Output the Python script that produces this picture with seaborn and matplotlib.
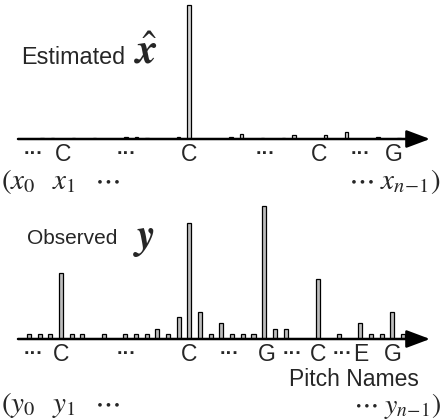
import numpy as np
import pandas as pd
import matplotlib
matplotlib.use("Agg")
import matplotlib.pyplot as plt
import seaborn as sns

# ---------------- data ----------------
pitch_index = list(range(36))

# Estimated x-hat (normalised, tallest = 1)
estimated_vals = [0, 0.008, 0.006, 0, 0.008, 0, 0.006, 0, 0, 0.015, 0.015, 0.008,
                  0, 0, 0.015, 1.0, 0, 0, 0, 0.015, 0.037, 0, 0.006, 0,
                  0.011, 0.03, 0, 0, 0.03, 0, 0.052, 0, 0, 0.015, 0, 0.011]

# Observed y (normalised, tallest = 1)
observed_vals = [0.035, 0.035, 0.035, 0.50, 0.035, 0.035, 0, 0.035, 0, 0.035, 0.035, 0.035,
                 0.075, 0.035, 0.166, 0.875, 0.20, 0.035, 0.12, 0.035, 0.035, 0.035, 1.0, 0.075,
                 0.075, 0, 0, 0.45, 0, 0.035, 0, 0.118, 0.035, 0.035, 0.20, 0.035]

top_tick_pos = [0.2, 3.0, 9.1, 15.0, 22.3, 27.4, 31.3, 34.5]
top_tick_lab = ["···", "C", "···", "C", "···", "C", "···", "G"]

bot_tick_pos = [0.4, 3.0, 9.1, 15.0, 18.8, 22.2, 24.7, 27.0, 29.3, 31.05, 34.0]
bot_tick_lab = ["···", "C", "···", "C", "···", "G", "···", "C", "···", "E", "G"]

# ---------------- style ----------------
sns.set_theme(style="white")
plt.rcParams["font.family"] = ["Liberation Sans", "DejaVu Sans"]
plt.rcParams["mathtext.fontset"] = "stix"

W, H = 441, 420
fig = plt.figure(figsize=(W / 100, H / 100), dpi=100)


def px(x, y):
    return x / W, 1 - y / H


def make_panel(rect, vals, xlim, ylim, face, tick_pos, tick_lab):
    ax = fig.add_axes(rect)
    df = pd.DataFrame({"pitch": pitch_index, "value": vals})
    sns.barplot(data=df, x="pitch", y="value", order=pitch_index, ax=ax,
                width=0.38, color=face, edgecolor="black", linewidth=0.9,
                saturation=1)
    for p in ax.patches:
        p.set_facecolor(face)
    ax.set_xlim(*xlim)
    ax.set_ylim(*ylim)
    for s in ax.spines.values():
        s.set_visible(False)
    ax.set_xlabel("")
    ax.set_ylabel("")
    ax.set_yticks([])
    ax.set_xticks(tick_pos, tick_lab)
    ax.tick_params(axis="x", length=0, pad=11, labelsize=16.5)
    for lab in ax.get_xticklabels():
        lab.set_verticalalignment("center")
        if lab.get_text() == "···":
            lab.set_fontsize(14)
            lab.set_fontweight("bold")
    ax.patch.set_alpha(0)
    ax.annotate("", xy=(430 / W, 0), xytext=(18 / W, 0),
                xycoords=ax.get_yaxis_transform(),
                textcoords=ax.get_yaxis_transform(),
                arrowprops=dict(arrowstyle="-|>,head_length=0.8,head_width=0.3",
                                mutation_scale=18, lw=1.8, color="black",
                                shrinkA=0, shrinkB=0),
                annotation_clip=False)
    return ax


# top panel: axis line at y=139 px, tallest bar top at y=5 px
ax1 = make_panel([0, 1 - 139 / H, 1, 139 / H], estimated_vals,
                 (-31.5 / 10.5, (W - 31.5) / 10.5), (0, 139 / 134),
                 "#d4d4d4", top_tick_pos, top_tick_lab)
# bottom panel: axis line at y=339 px, tallest bar top at y=206 px
ax2 = make_panel([0, 1 - 339 / H, 1, 139 / H], observed_vals,
                 (-29 / 10.69, (W - 29) / 10.69), (0, 139 / 133),
                 "#bdbdbd", bot_tick_pos, bot_tick_lab)

# ---------------- annotations ----------------
fig.text(*px(21, 57), "Estimated", fontsize=16.8, va="center", ha="left")
fig.text(*px(134, 53), r"$\hat{\mathbfit{x}}$", fontsize=31, va="center", ha="left")

fig.text(*px(27, 238), "Observed", fontsize=15, va="center", ha="left")
fig.text(*px(133, 239), r"$\mathbfit{y}$", fontsize=30, va="center", ha="left")

fig.text(*px(289, 380), "Pitch Names", fontsize=16.5, va="center", ha="left")

fig.text(*px(1, 181), r"$(x_0\;\;\; x_1\;\;\;\cdots$", fontsize=21, va="center", ha="left")
fig.text(*px(441, 181), r"$\cdots\; x_{n\!-\!1})$", fontsize=21, va="center", ha="right")
fig.text(*px(1, 405), r"$(y_0\;\;\; y_1\;\;\;\cdots$", fontsize=21, va="center", ha="left")
fig.text(*px(441, 406), r"$\cdots\; y_{n\!-\!1})$", fontsize=20, va="center", ha="right")

fig.savefig("out.png", dpi=100, facecolor="white")
